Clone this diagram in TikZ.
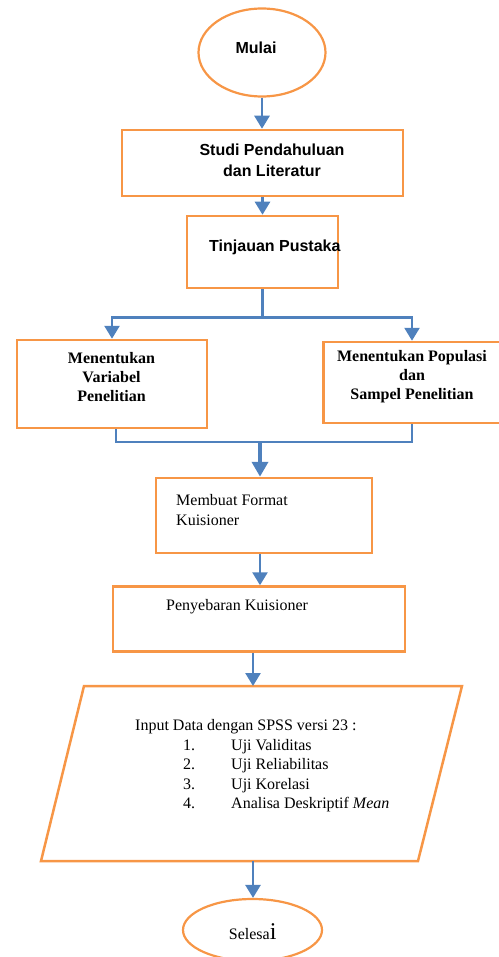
\documentclass[tikz,border=0pt]{standalone}
\usepackage{fontspec}
\setmainfont{Liberation Serif}
\newfontfamily\arialf{Liberation Sans}
\usetikzlibrary{arrows.meta,shapes.geometric}
\definecolor{obord}{HTML}{F79646}
\definecolor{bline}{HTML}{4F81BD}
\tikzset{
  box/.style={draw=obord,line width=2.5pt,rectangle,inner sep=0pt},
  oval/.style={draw=obord,line width=2.2pt,ellipse,inner sep=0pt},
  conn/.style={draw=bline,line width=2.6pt},
  arr/.style={conn,-{Triangle[width=15pt,length=13pt]}},
  bigarr/.style={draw=bline,line width=3.8pt,-{Triangle[width=16pt,length=15pt]}},
  sanstxt/.style={inner sep=0pt,anchor=base,font=\arialf\bfseries\fontsize{16}{19}\selectfont},
  boldtxt/.style={inner sep=0pt,anchor=base,font=\bfseries\fontsize{16}{19}\selectfont},
  txt/.style={inner sep=0pt,anchor=base west,font=\fontsize{16}{19}\selectfont},
}
\begin{document}
\begin{tikzpicture}[x=1pt,y=-1pt]
\useasboundingbox (0,0) rectangle (498,957);
% shapes
\node[oval,minimum width=127pt,minimum height=88pt] (mulai) at (262,52.5) {};
\node[box,minimum width=281pt,minimum height=66pt] (b1) at (262.5,163) {};
\node[box,minimum width=151pt,minimum height=72pt] (b2) at (262.5,252) {};
\node[box,minimum width=190pt,minimum height=88pt] (bl) at (112,384) {};
\node[box,minimum width=177pt,minimum height=81pt] (br) at (412,382.5) {};
\node[box,minimum width=216pt,minimum height=75pt] (b3) at (264,515.5) {};
\node[box,minimum width=292pt,minimum height=65pt] (b4) at (259,619) {};
\coordinate (p1) at (84,686);
\coordinate (p2) at (462,686);
\coordinate (p3) at (418,861);
\coordinate (p4) at (41,861);
\draw[draw=obord,line width=2.5pt,line join=miter] (p1) -- (p2) -- (p3) -- (p4) -- cycle;
\node[oval,minimum width=139pt,minimum height=62pt] (sel) at (252.5,930) {};
% texts
\node[sanstxt] (tmulai) at (256,54) {Mulai};
\node[sanstxt] (t1a) at (272,156) {Studi Pendahuluan};
\node[sanstxt] (t1b) at (272,177) {dan Literatur};
\node[sanstxt,anchor=base west] (t2) at (209,251.7) {Tinjauan Pustaka};
\node[boldtxt] (tla) at (111.5,363.3) {Menentukan};
\node[boldtxt] (tlb) at (111.5,382.3) {Variabel};
\node[boldtxt] (tlc) at (111.5,401) {Penelitian};
\node[boldtxt] (tra) at (412,361) {Menentukan Populasi};
\node[boldtxt] (trb) at (412,380) {dan};
\node[boldtxt] (trc) at (412,399) {Sampel Penelitian};
\node[txt] (t3a) at (176,505.7) {Membuat Format};
\node[txt] (t3b) at (176,525.7) {Kuisioner};
\node[txt] (t4) at (166,610.7) {Penyebaran Kuisioner};
\node[txt] (tin) at (135,730) {Input Data dengan SPSS versi 23 :};
\node[txt] (n1) at (183,750) {1.};
\node[txt] (i1) at (231,750) {Uji Validitas};
\node[txt] (n2) at (183,769.5) {2.};
\node[txt] (i2) at (231,769.5) {Uji Reliabilitas};
\node[txt] (n3) at (183,789) {3.};
\node[txt] (i3) at (231,789) {Uji Korelasi};
\node[txt] (n4) at (183,808.7) {4.};
\node[txt] (i4) at (231,808.7) {Analisa Deskriptif \textit{Mean}};
\node[txt] (tsel) at (228.7,939.3) {Selesa{\fontsize{24}{24}\selectfont i}};
% connectors
\draw[arr] (mulai.south) -- (mulai.south |- b1.north);
\draw[arr] (b1.south) -- (b2.north);
\draw[conn] (b2.south) -- ++(0,28) coordinate (j1);
\draw[arr] (j1) -| (bl.north);
\draw[arr] (j1) -| (br.north);
\coordinate (j2) at (260,442);
\draw[conn] ([xshift=4pt]bl.south) |- (j2) -| (br.south);
\draw[bigarr] (j2) -- (j2 |- b3.north);
\draw[arr] ([xshift=-4pt]b3.south) -- ([xshift=-4pt]b3.south |- b4.north);
\coordinate (pin) at (253,686);
\draw[arr] (pin |- b4.south) -- (pin);
\coordinate (pout) at (253,861);
\draw[arr] (pout) -- (pout |- sel.north);
\end{tikzpicture}
\end{document}
